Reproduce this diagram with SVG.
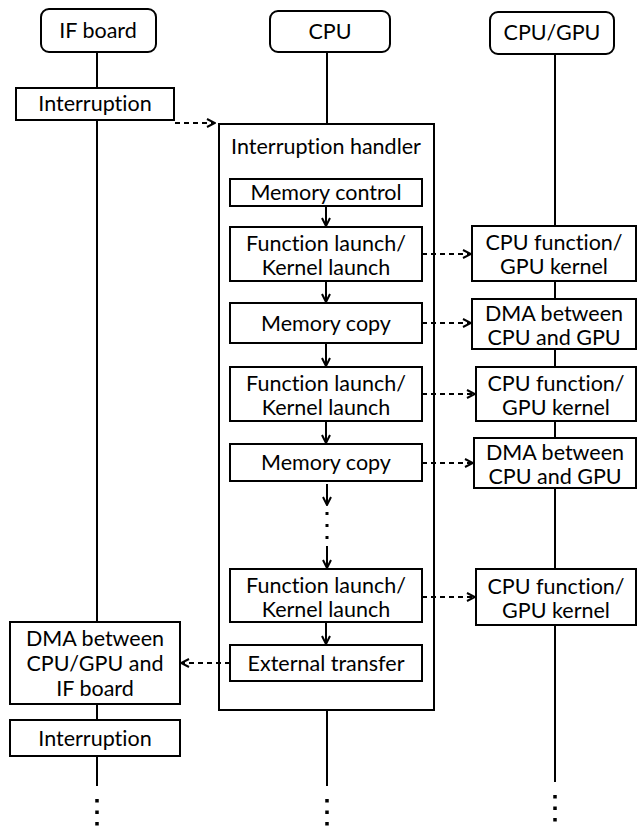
<svg xmlns="http://www.w3.org/2000/svg" width="644" height="829" viewBox="0 0 644 829">
  <defs>
    <marker id="arr" viewBox="0 0 10 10" refX="9" refY="5" markerWidth="10" markerHeight="10" markerUnits="userSpaceOnUse" orient="auto">
      <path d="M1,1 L9,5 L1,9" fill="none" stroke="#000" stroke-width="2"/>
    </marker>
  </defs>
  <style>
    rect { fill: #fff; stroke: #000; stroke-width: 2; }
    text { font-family: Lato, "Liberation Sans", sans-serif; font-size: 21.5px; fill: #000; text-anchor: middle; font-variant-ligatures: none; }
    .life { stroke: #000; stroke-width: 2; fill: none; }
    .dots { stroke: #000; stroke-width: 3.5; stroke-dasharray: 3.5 8; fill: none; }
    .solid { stroke: #000; stroke-width: 2; fill: none; marker-end: url(#arr); }
    .dash { stroke: #000; stroke-width: 2; stroke-dasharray: 5 4; fill: none; marker-end: url(#arr); }
  </style>
  <rect x="0" y="0" width="644" height="829" style="stroke:none"/>

  <!-- lifelines -->
  <g id="lifelines">
    <line class="life" x1="97" y1="52" x2="97" y2="786"/>
    <line class="life" x1="327" y1="52" x2="327" y2="786"/>
    <line class="life" x1="555" y1="54" x2="555" y2="782"/>
    <line class="dots" x1="97" y1="799" x2="97" y2="829"/>
    <line class="dots" x1="327" y1="799" x2="327" y2="829"/>
    <line class="dots" x1="555" y1="795" x2="555" y2="829"/>
  </g>

  <!-- headers -->
  <g id="if-board"><rect x="41" y="9" width="115" height="43" rx="8"/><text x="98" y="38">IF board</text></g>
  <g id="cpu"><rect x="270" y="11" width="120" height="41" rx="8"/><text x="330" y="39">CPU</text></g>
  <g id="cpu-gpu"><rect x="490" y="12" width="124" height="42" rx="8"/><text x="552" y="40">CPU/GPU</text></g>

  <g id="interruption1"><rect x="16" y="88" width="158" height="32"/><text x="95" y="111">Interruption</text></g>

  <!-- handler -->
  <g id="handler">
    <rect x="219" y="124" width="215" height="586"/>
    <text x="326" y="154">Interruption handler</text>
  </g>
  <g id="mem-control"><rect x="230" y="179" width="192" height="27"/><text x="326" y="200">Memory control</text></g>
  <g id="launch1"><rect x="230" y="227" width="192" height="54"/><text x="326" y="251">Function launch/</text><text x="326" y="275">Kernel launch</text></g>
  <g id="copy1"><rect x="230" y="303" width="192" height="40"/><text x="326" y="331">Memory copy</text></g>
  <g id="launch2"><rect x="230" y="367" width="192" height="54"/><text x="326" y="391">Function launch/</text><text x="326" y="415">Kernel launch</text></g>
  <g id="copy2"><rect x="230" y="444" width="192" height="37"/><text x="326" y="470">Memory copy</text></g>
  <g id="launch3"><rect x="230" y="569" width="192" height="53"/><text x="326" y="593">Function launch/</text><text x="326" y="617">Kernel launch</text></g>
  <g id="ext-transfer"><rect x="230" y="645" width="192" height="36"/><text x="326" y="671">External transfer</text></g>

  <!-- CPU/GPU side -->
  <g id="kernel1"><rect x="472" y="226" width="164" height="55"/><text x="554" y="250">CPU function/</text><text x="554" y="274">GPU kernel</text></g>
  <g id="dma1"><rect x="472" y="299" width="164" height="50"/><text x="554" y="321">DMA between</text><text x="554" y="345">CPU and GPU</text></g>
  <g id="kernel2"><rect x="476" y="367" width="160" height="54"/><text x="556" y="391">CPU function/</text><text x="556" y="415">GPU kernel</text></g>
  <g id="dma2"><rect x="474" y="438" width="162" height="50"/><text x="555" y="460">DMA between</text><text x="555" y="484">CPU and GPU</text></g>
  <g id="kernel3"><rect x="476" y="569" width="160" height="56"/><text x="556" y="594">CPU function/</text><text x="556" y="618">GPU kernel</text></g>

  <!-- IF board side -->
  <g id="dma-if"><rect x="10" y="622" width="170" height="82"/><text x="95" y="646">DMA between</text><text x="95" y="671">CPU/GPU and</text><text x="95" y="696">IF board</text></g>
  <g id="interruption2"><rect x="10" y="720" width="170" height="36"/><text x="95" y="746">Interruption</text></g>

  <!-- connectors -->
  <g id="connectors">
    <line class="dash" x1="175" y1="123" x2="215" y2="123"/>
    <line class="solid" x1="326" y1="206" x2="326" y2="226"/>
    <line class="solid" x1="326" y1="281" x2="326" y2="302"/>
    <line class="solid" x1="326" y1="343" x2="326" y2="366"/>
    <line class="solid" x1="326" y1="421" x2="326" y2="443"/>
    <line class="solid" x1="327" y1="484" x2="327" y2="505"/>
    <line class="dots" x1="327" y1="512" x2="327" y2="540" style="stroke-width:3;stroke-dasharray:3 9"/>
    <line class="solid" x1="327" y1="546" x2="327" y2="568"/>
    <line class="solid" x1="326" y1="622" x2="326" y2="644"/>
    <line class="dash" x1="422" y1="254" x2="471" y2="254"/>
    <line class="dash" x1="422" y1="323" x2="471" y2="323"/>
    <line class="dash" x1="422" y1="394" x2="475" y2="394"/>
    <line class="dash" x1="422" y1="463" x2="473" y2="463"/>
    <line class="dash" x1="422" y1="597" x2="475" y2="597"/>
    <line class="dash" x1="230" y1="663" x2="181" y2="663"/>
  </g>
</svg>
